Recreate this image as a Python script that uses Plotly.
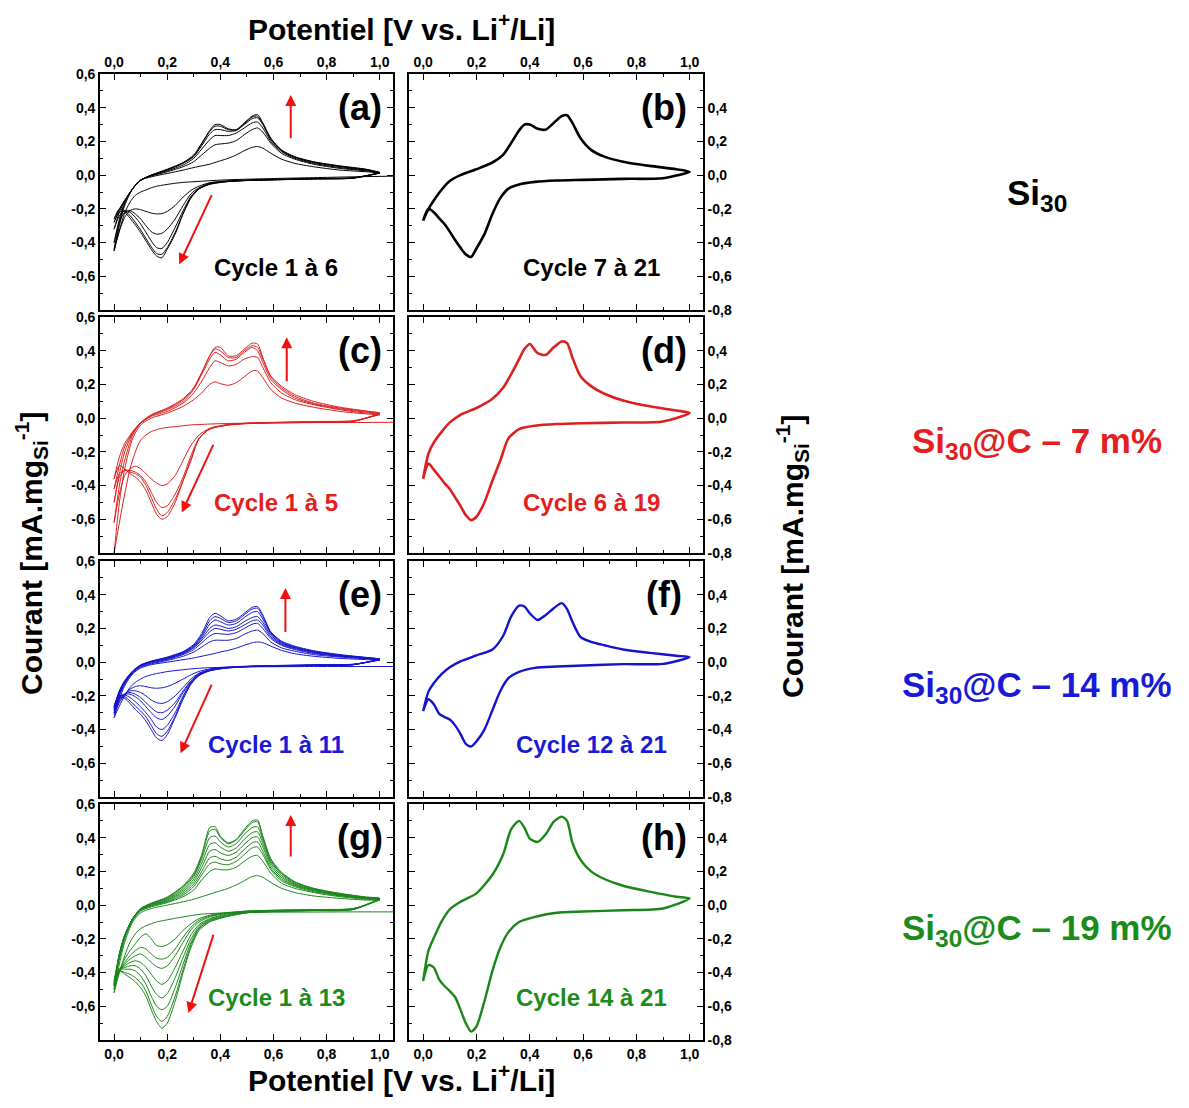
import plotly.graph_objects as go

# ---------------- DATA ----------------
# voltage grids (V vs Li+/Li)
VC = [1.0, 0.9, 0.75, 0.6, 0.5, 0.42, 0.36, 0.32, 0.29, 0.26, 0.23, 0.2, 0.18, 0.16, 0.14, 0.12, 0.1, 0.08, 0.06, 0.04, 0.02, 0.0]
VC_FIRST = [1.1, 0.9, 0.75, 0.6, 0.5, 0.42, 0.36, 0.32, 0.29, 0.26, 0.23, 0.2, 0.18, 0.16, 0.14, 0.12, 0.1, 0.08, 0.06, 0.04, 0.02, 0.0]
VA = [0.0, 0.02, 0.04, 0.07, 0.1, 0.14, 0.2, 0.26, 0.3, 0.33, 0.36, 0.38, 0.4, 0.43, 0.46, 0.49, 0.52, 0.54, 0.56, 0.59, 0.63, 0.68, 0.75, 0.85, 0.95, 1.0]

# (a) Si30, cycles 1-6
A_CATH = [
    [-0.005, -0.01, -0.015, -0.02, -0.024, -0.028, -0.033, -0.037, -0.04, -0.043, -0.048, -0.055, -0.06, -0.066, -0.075, -0.088, -0.1, -0.12, -0.16, -0.225, -0.33, -0.45],
    [0.012, -0.015, -0.02, -0.025, -0.03, -0.035, -0.045, -0.065, -0.09, -0.13, -0.18, -0.215, -0.228, -0.23, -0.225, -0.215, -0.205, -0.2, -0.21, -0.25, -0.33, -0.44],
    [0.013, -0.016, -0.021, -0.026, -0.03, -0.036, -0.048, -0.075, -0.11, -0.18, -0.26, -0.32, -0.345, -0.35, -0.335, -0.3, -0.26, -0.23, -0.21, -0.22, -0.28, -0.4],
    [0.014, -0.017, -0.022, -0.027, -0.031, -0.038, -0.05, -0.08, -0.125, -0.21, -0.31, -0.4, -0.435, -0.43, -0.39, -0.34, -0.29, -0.25, -0.22, -0.21, -0.24, -0.32],
    [0.015, -0.018, -0.022, -0.028, -0.032, -0.039, -0.053, -0.08, -0.13, -0.225, -0.34, -0.43, -0.47, -0.465, -0.425, -0.375, -0.325, -0.28, -0.24, -0.215, -0.22, -0.28],
    [0.015, -0.018, -0.023, -0.028, -0.032, -0.04, -0.055, -0.082, -0.135, -0.23, -0.35, -0.44, -0.49, -0.48, -0.44, -0.39, -0.34, -0.295, -0.255, -0.22, -0.2, -0.26],
]
A_ANOD = [
    [-0.45, -0.3, -0.18, -0.08, -0.03, -0.01, 0.01, 0.03, 0.045, 0.055, 0.065, 0.075, 0.085, 0.1, 0.12, 0.145, 0.165, 0.17, 0.16, 0.13, 0.095, 0.07, 0.05, 0.03, 0.02, 0.012],
    [-0.44, -0.28, -0.17, -0.08, -0.03, -0.005, 0.02, 0.05, 0.08, 0.12, 0.16, 0.18, 0.185, 0.19, 0.205, 0.24, 0.27, 0.28, 0.255, 0.19, 0.13, 0.095, 0.065, 0.04, 0.025, 0.013],
    [-0.4, -0.26, -0.16, -0.08, -0.03, -0.003, 0.025, 0.06, 0.1, 0.155, 0.21, 0.235, 0.235, 0.235, 0.25, 0.28, 0.31, 0.315, 0.28, 0.2, 0.14, 0.1, 0.07, 0.045, 0.028, 0.014],
    [-0.32, -0.22, -0.155, -0.08, -0.03, 0.0, 0.03, 0.07, 0.11, 0.175, 0.245, 0.27, 0.27, 0.26, 0.265, 0.3, 0.335, 0.34, 0.3, 0.21, 0.145, 0.105, 0.075, 0.05, 0.03, 0.015],
    [-0.28, -0.205, -0.15, -0.08, -0.03, 0.0, 0.033, 0.073, 0.115, 0.185, 0.26, 0.29, 0.29, 0.27, 0.268, 0.305, 0.345, 0.35, 0.305, 0.215, 0.148, 0.108, 0.078, 0.053, 0.033, 0.015],
    [-0.26, -0.2, -0.15, -0.082, -0.03, 0.0, 0.035, 0.075, 0.12, 0.19, 0.265, 0.3, 0.3, 0.275, 0.27, 0.31, 0.35, 0.36, 0.31, 0.22, 0.15, 0.11, 0.08, 0.055, 0.035, 0.016],
]
# (b) Si30, cycles 7-21
B_CATH = [[0.02, -0.018, -0.022, -0.028, -0.032, -0.04, -0.055, -0.08, -0.135, -0.23, -0.35, -0.435, -0.485, -0.47, -0.43, -0.385, -0.335, -0.29, -0.255, -0.22, -0.2, -0.27]]
B_ANOD = [[-0.27, -0.2, -0.15, -0.085, -0.035, 0.0, 0.035, 0.075, 0.12, 0.19, 0.265, 0.3, 0.3, 0.275, 0.27, 0.31, 0.35, 0.355, 0.31, 0.22, 0.15, 0.11, 0.08, 0.055, 0.035, 0.02]]

# (c) Si30@C 7 m%, cycles 1-5
C_CATH = [
    [-0.024, -0.026, -0.027, -0.028, -0.03, -0.032, -0.035, -0.038, -0.04, -0.045, -0.05, -0.055, -0.06, -0.068, -0.08, -0.1, -0.13, -0.2, -0.3, -0.45, -0.62, -0.8],
    [0.02, -0.015, -0.02, -0.025, -0.03, -0.04, -0.06, -0.1, -0.16, -0.25, -0.34, -0.39, -0.4, -0.385, -0.36, -0.33, -0.3, -0.285, -0.3, -0.34, -0.45, -0.62],
    [0.025, -0.018, -0.022, -0.026, -0.03, -0.04, -0.065, -0.12, -0.22, -0.35, -0.45, -0.52, -0.53, -0.5, -0.44, -0.38, -0.34, -0.32, -0.31, -0.31, -0.35, -0.5],
    [0.028, -0.019, -0.023, -0.027, -0.031, -0.042, -0.065, -0.12, -0.24, -0.37, -0.48, -0.56, -0.58, -0.54, -0.47, -0.4, -0.35, -0.33, -0.32, -0.31, -0.33, -0.42],
    [0.03, -0.02, -0.025, -0.029, -0.033, -0.044, -0.065, -0.12, -0.25, -0.37, -0.5, -0.585, -0.6, -0.57, -0.5, -0.43, -0.38, -0.35, -0.33, -0.3, -0.28, -0.36],
]
C_ANOD = [
    [-0.8, -0.5, -0.3, -0.12, -0.04, 0.0, 0.03, 0.07, 0.11, 0.15, 0.2, 0.215, 0.205, 0.195, 0.21, 0.245, 0.28, 0.28, 0.24, 0.17, 0.12, 0.09, 0.065, 0.04, 0.025, 0.02],
    [-0.62, -0.4, -0.25, -0.1, -0.03, 0.01, 0.04, 0.09, 0.15, 0.22, 0.3, 0.34, 0.33, 0.31, 0.32, 0.35, 0.365, 0.36, 0.3, 0.21, 0.15, 0.11, 0.08, 0.05, 0.03, 0.025],
    [-0.5, -0.33, -0.2, -0.09, -0.03, 0.015, 0.05, 0.1, 0.17, 0.26, 0.35, 0.39, 0.375, 0.34, 0.35, 0.39, 0.42, 0.4, 0.33, 0.23, 0.17, 0.12, 0.085, 0.055, 0.035, 0.028],
    [-0.42, -0.28, -0.17, -0.085, -0.03, 0.018, 0.055, 0.11, 0.18, 0.27, 0.37, 0.41, 0.4, 0.36, 0.36, 0.4, 0.43, 0.42, 0.35, 0.245, 0.18, 0.13, 0.09, 0.06, 0.04, 0.03],
    [-0.36, -0.23, -0.15, -0.08, -0.025, 0.02, 0.06, 0.115, 0.18, 0.27, 0.37, 0.42, 0.42, 0.37, 0.37, 0.41, 0.445, 0.44, 0.36, 0.25, 0.19, 0.14, 0.1, 0.065, 0.042, 0.03],
]
# (d) Si30@C 7 m%, cycles 6-19
D_CATH = [[0.03, -0.02, -0.026, -0.03, -0.035, -0.045, -0.065, -0.12, -0.25, -0.37, -0.5, -0.585, -0.605, -0.575, -0.52, -0.47, -0.42, -0.385, -0.345, -0.305, -0.27, -0.36]]
D_ANOD = [[-0.36, -0.21, -0.145, -0.08, -0.025, 0.02, 0.06, 0.115, 0.18, 0.26, 0.35, 0.41, 0.44, 0.385, 0.375, 0.42, 0.455, 0.445, 0.36, 0.25, 0.19, 0.145, 0.105, 0.07, 0.045, 0.03]]

# (e) Si30@C 14 m%, cycles 1-11 (selection)
E_CATH = [
    [-0.026, -0.026, -0.026, -0.027, -0.028, -0.03, -0.033, -0.036, -0.04, -0.045, -0.05, -0.056, -0.062, -0.068, -0.075, -0.085, -0.1, -0.12, -0.15, -0.2, -0.26, -0.33],
    [0.012, -0.012, -0.016, -0.02, -0.024, -0.03, -0.04, -0.055, -0.075, -0.1, -0.125, -0.145, -0.152, -0.155, -0.152, -0.145, -0.14, -0.145, -0.16, -0.19, -0.24, -0.31],
    [0.014, -0.013, -0.017, -0.021, -0.025, -0.032, -0.045, -0.065, -0.1, -0.15, -0.2, -0.235, -0.245, -0.24, -0.225, -0.2, -0.18, -0.17, -0.17, -0.19, -0.23, -0.3],
    [0.015, -0.014, -0.018, -0.022, -0.026, -0.033, -0.047, -0.07, -0.11, -0.17, -0.24, -0.285, -0.3, -0.295, -0.27, -0.24, -0.21, -0.19, -0.18, -0.19, -0.22, -0.29],
    [0.016, -0.014, -0.018, -0.022, -0.026, -0.034, -0.048, -0.072, -0.115, -0.18, -0.26, -0.32, -0.34, -0.33, -0.3, -0.265, -0.23, -0.205, -0.19, -0.19, -0.21, -0.28],
    [0.017, -0.015, -0.019, -0.023, -0.027, -0.035, -0.05, -0.075, -0.12, -0.2, -0.3, -0.375, -0.4, -0.385, -0.34, -0.3, -0.265, -0.235, -0.21, -0.195, -0.2, -0.27],
    [0.018, -0.015, -0.019, -0.023, -0.027, -0.035, -0.05, -0.078, -0.125, -0.21, -0.32, -0.41, -0.44, -0.425, -0.375, -0.325, -0.29, -0.26, -0.23, -0.205, -0.2, -0.26],
    [0.018, -0.016, -0.02, -0.024, -0.028, -0.036, -0.052, -0.08, -0.13, -0.22, -0.33, -0.43, -0.465, -0.45, -0.4, -0.35, -0.31, -0.28, -0.245, -0.215, -0.21, -0.27],
]
E_ANOD = [
    [-0.33, -0.22, -0.14, -0.07, -0.035, -0.015, 0.0, 0.015, 0.025, 0.035, 0.045, 0.052, 0.06, 0.07, 0.083, 0.1, 0.115, 0.12, 0.115, 0.095, 0.07, 0.05, 0.035, 0.022, 0.015, 0.012],
    [-0.31, -0.2, -0.13, -0.065, -0.03, -0.01, 0.01, 0.035, 0.06, 0.09, 0.12, 0.13, 0.13, 0.13, 0.14, 0.165, 0.185, 0.19, 0.17, 0.12, 0.085, 0.065, 0.045, 0.03, 0.02, 0.014],
    [-0.3, -0.19, -0.125, -0.06, -0.025, -0.005, 0.015, 0.045, 0.075, 0.115, 0.155, 0.17, 0.168, 0.165, 0.175, 0.2, 0.225, 0.23, 0.2, 0.14, 0.1, 0.075, 0.052, 0.034, 0.022, 0.015],
    [-0.29, -0.185, -0.12, -0.058, -0.022, 0.0, 0.02, 0.05, 0.085, 0.13, 0.18, 0.2, 0.195, 0.185, 0.195, 0.22, 0.245, 0.25, 0.22, 0.15, 0.105, 0.08, 0.056, 0.036, 0.024, 0.016],
    [-0.28, -0.18, -0.118, -0.056, -0.02, 0.002, 0.022, 0.053, 0.09, 0.14, 0.2, 0.22, 0.215, 0.2, 0.21, 0.24, 0.265, 0.27, 0.235, 0.16, 0.11, 0.085, 0.06, 0.038, 0.025, 0.017],
    [-0.27, -0.175, -0.115, -0.055, -0.02, 0.004, 0.025, 0.057, 0.095, 0.15, 0.225, 0.25, 0.24, 0.22, 0.23, 0.265, 0.295, 0.3, 0.255, 0.17, 0.115, 0.088, 0.063, 0.04, 0.026, 0.018],
    [-0.26, -0.17, -0.112, -0.054, -0.018, 0.005, 0.027, 0.06, 0.1, 0.16, 0.245, 0.27, 0.26, 0.235, 0.245, 0.28, 0.315, 0.32, 0.27, 0.175, 0.12, 0.09, 0.065, 0.042, 0.027, 0.018],
    [-0.27, -0.17, -0.11, -0.052, -0.016, 0.006, 0.03, 0.063, 0.105, 0.17, 0.265, 0.29, 0.275, 0.245, 0.255, 0.29, 0.325, 0.33, 0.28, 0.18, 0.125, 0.095, 0.068, 0.045, 0.028, 0.02],
]
# (f) Si30@C 14 m%, cycles 12-21
F_CATH = [[0.03, -0.01, -0.012, -0.02, -0.026, -0.034, -0.058, -0.095, -0.17, -0.285, -0.4, -0.47, -0.5, -0.485, -0.425, -0.375, -0.34, -0.325, -0.305, -0.25, -0.22, -0.29]]
F_ANOD = [[-0.29, -0.175, -0.125, -0.07, -0.03, 0.005, 0.04, 0.075, 0.155, 0.27, 0.335, 0.33, 0.29, 0.25, 0.28, 0.32, 0.35, 0.315, 0.24, 0.15, 0.12, 0.1, 0.075, 0.055, 0.038, 0.03]]

# (g) Si30@C 19 m%, cycles 1-13 (selection)
G_CATH = [
    [-0.04, -0.04, -0.041, -0.042, -0.044, -0.046, -0.05, -0.055, -0.062, -0.07, -0.078, -0.087, -0.093, -0.1, -0.11, -0.122, -0.14, -0.17, -0.22, -0.3, -0.4, -0.52],
    [0.03, -0.02, -0.026, -0.03, -0.035, -0.045, -0.06, -0.08, -0.11, -0.15, -0.2, -0.235, -0.245, -0.24, -0.2, -0.17, -0.19, -0.23, -0.27, -0.32, -0.39, -0.48],
    [0.032, -0.021, -0.027, -0.031, -0.036, -0.048, -0.065, -0.09, -0.13, -0.19, -0.26, -0.31, -0.32, -0.315, -0.29, -0.26, -0.25, -0.27, -0.3, -0.34, -0.4, -0.47],
    [0.034, -0.022, -0.028, -0.032, -0.037, -0.05, -0.07, -0.1, -0.145, -0.22, -0.3, -0.36, -0.375, -0.365, -0.34, -0.31, -0.29, -0.3, -0.32, -0.35, -0.39, -0.46],
    [0.036, -0.023, -0.029, -0.034, -0.039, -0.055, -0.08, -0.115, -0.175, -0.27, -0.37, -0.45, -0.47, -0.45, -0.41, -0.37, -0.34, -0.33, -0.34, -0.36, -0.38, -0.45],
    [0.037, -0.024, -0.03, -0.035, -0.041, -0.06, -0.085, -0.125, -0.2, -0.31, -0.43, -0.525, -0.55, -0.53, -0.48, -0.42, -0.38, -0.36, -0.36, -0.37, -0.38, -0.46],
    [0.038, -0.025, -0.031, -0.036, -0.043, -0.065, -0.09, -0.135, -0.22, -0.35, -0.49, -0.6, -0.62, -0.6, -0.54, -0.47, -0.42, -0.39, -0.38, -0.38, -0.38, -0.47],
    [0.04, -0.026, -0.032, -0.037, -0.045, -0.068, -0.095, -0.14, -0.235, -0.38, -0.54, -0.66, -0.69, -0.66, -0.59, -0.51, -0.46, -0.43, -0.41, -0.4, -0.39, -0.48],
    [0.04, -0.026, -0.033, -0.038, -0.046, -0.07, -0.1, -0.15, -0.25, -0.4, -0.57, -0.7, -0.73, -0.69, -0.62, -0.54, -0.49, -0.455, -0.43, -0.41, -0.39, -0.5],
]
G_ANOD = [
    [-0.52, -0.35, -0.22, -0.1, -0.045, -0.02, 0.0, 0.02, 0.035, 0.05, 0.065, 0.075, 0.085, 0.1, 0.12, 0.145, 0.17, 0.175, 0.165, 0.135, 0.1, 0.075, 0.055, 0.04, 0.03, 0.03],
    [-0.48, -0.32, -0.2, -0.09, -0.035, -0.01, 0.015, 0.05, 0.09, 0.15, 0.2, 0.215, 0.21, 0.21, 0.225, 0.26, 0.29, 0.295, 0.26, 0.19, 0.13, 0.1, 0.075, 0.05, 0.035, 0.032],
    [-0.47, -0.31, -0.19, -0.085, -0.03, -0.005, 0.02, 0.06, 0.11, 0.18, 0.245, 0.255, 0.245, 0.24, 0.26, 0.3, 0.34, 0.345, 0.3, 0.21, 0.145, 0.11, 0.08, 0.055, 0.038, 0.034],
    [-0.46, -0.3, -0.185, -0.083, -0.028, -0.002, 0.025, 0.07, 0.125, 0.2, 0.28, 0.29, 0.275, 0.265, 0.285, 0.33, 0.37, 0.375, 0.32, 0.22, 0.155, 0.115, 0.085, 0.058, 0.04, 0.036],
    [-0.45, -0.29, -0.18, -0.08, -0.025, 0.002, 0.03, 0.08, 0.14, 0.225, 0.32, 0.33, 0.31, 0.295, 0.315, 0.36, 0.4, 0.405, 0.345, 0.235, 0.165, 0.12, 0.09, 0.06, 0.042, 0.037],
    [-0.46, -0.29, -0.18, -0.08, -0.024, 0.005, 0.035, 0.09, 0.155, 0.25, 0.36, 0.37, 0.345, 0.32, 0.34, 0.39, 0.43, 0.435, 0.365, 0.25, 0.175, 0.125, 0.092, 0.062, 0.044, 0.038],
    [-0.47, -0.29, -0.18, -0.08, -0.023, 0.008, 0.04, 0.1, 0.17, 0.275, 0.4, 0.41, 0.375, 0.345, 0.365, 0.42, 0.46, 0.465, 0.385, 0.26, 0.185, 0.13, 0.095, 0.065, 0.045, 0.04],
    [-0.48, -0.29, -0.18, -0.08, -0.022, 0.01, 0.045, 0.11, 0.18, 0.29, 0.44, 0.45, 0.4, 0.365, 0.385, 0.44, 0.49, 0.495, 0.4, 0.27, 0.19, 0.135, 0.1, 0.068, 0.047, 0.04],
    [-0.5, -0.29, -0.18, -0.08, -0.02, 0.012, 0.048, 0.115, 0.19, 0.3, 0.46, 0.465, 0.41, 0.37, 0.39, 0.45, 0.5, 0.505, 0.41, 0.275, 0.195, 0.14, 0.1, 0.07, 0.048, 0.04],
]
# (h) Si30@C 19 m%, cycles 14-21
H_CATH = [[0.04, -0.02, -0.03, -0.038, -0.045, -0.07, -0.1, -0.16, -0.25, -0.39, -0.57, -0.72, -0.75, -0.7, -0.62, -0.545, -0.51, -0.48, -0.44, -0.37, -0.355, -0.45]]
H_ANOD = [[-0.45, -0.27, -0.195, -0.095, -0.025, 0.02, 0.07, 0.18, 0.3, 0.45, 0.5, 0.46, 0.395, 0.375, 0.42, 0.495, 0.525, 0.5, 0.37, 0.27, 0.2, 0.155, 0.115, 0.08, 0.05, 0.04]]

PANEL_LETTERS = ["(a)", "(b)", "(c)", "(d)", "(e)", "(f)", "(g)", "(h)"]
CYCLE_LABELS = ["Cycle 1 à 6", "Cycle 7 à 21", "Cycle 1 à 5", "Cycle 6 à 19",
                "Cycle 1 à 11", "Cycle 12 à 21", "Cycle 1 à 13", "Cycle 14 à 21"]
SAMPLE_LABELS = ["Si<sub>30</sub>", "Si<sub>30</sub>@C – 7 m%",
                 "Si<sub>30</sub>@C – 14 m%", "Si<sub>30</sub>@C – 19 m%"]
X_TICK_VALS = [0.0, 0.2, 0.4, 0.6, 0.8, 1.0]
X_TICK_TEXT = ["0,0", "0,2", "0,4", "0,6", "0,8", "1,0"]
Y_LEFT_VALS = [0.6, 0.4, 0.2, 0.0, -0.2, -0.4, -0.6]
Y_LEFT_TEXT = ["0,6", "0,4", "0,2", "0,0", "-0,2", "-0,4", "-0,6"]
Y_RIGHT_VALS = [0.4, 0.2, 0.0, -0.2, -0.4, -0.6, -0.8]
Y_RIGHT_TEXT = ["0,4", "0,2", "0,0", "-0,2", "-0,4", "-0,6", "-0,8"]

# ---------------- STYLE / LAYOUT ----------------
# page has an 8px body margin: the figure is offset by OFF px
OFF = 8
W, H = 1189 - 2 * OFF, 1108 - 2 * OFF


def px(xp):
    return (xp - OFF) / W


def py(yp):
    return 1 - (yp - OFF) / H


COL_PX = [(100, 393), (409, 703)]
ROW_PX = [(74, 310), (317, 553), (561, 797), (804, 1040)]
BLACK, RED, BLUE, GREEN = "#000000", "#dc1f1f", "#1414cc", "#1a861a"
TXT_RED, TXT_BLUE, TXT_GREEN = "#e3201e", "#1a1ad6", "#1b8c1b"
ARROW = "#f01010"
FONT = "Liberation Sans, Arial, sans-serif"

panels = [
    (A_CATH, A_ANOD, BLACK, 1.0, BLACK),
    (B_CATH, B_ANOD, BLACK, 2.6, BLACK),
    (C_CATH, C_ANOD, RED, 1.0, TXT_RED),
    (D_CATH, D_ANOD, RED, 2.6, TXT_RED),
    (E_CATH, E_ANOD, BLUE, 1.0, TXT_BLUE),
    (F_CATH, F_ANOD, BLUE, 2.4, TXT_BLUE),
    (G_CATH, G_ANOD, GREEN, 1.0, TXT_GREEN),
    (H_CATH, H_ANOD, GREEN, 2.4, TXT_GREEN),
]
ARROWS = {
    0: ((0.665, 0.21), (0.665, 0.475), (0.37, -0.11), (0.245, -0.53)),
    2: ((0.65, 0.21), (0.65, 0.48), (0.376, -0.15), (0.255, -0.56)),
    4: ((0.645, 0.17), (0.645, 0.44), (0.37, -0.125), (0.25, -0.54)),
    6: ((0.665, 0.28), (0.665, 0.535), (0.376, -0.166), (0.28, -0.64)),
}
CYCLE_Y = [-0.546, -0.546, -0.5, -0.5, -0.487, -0.49, -0.55, -0.55]

fig = go.Figure()
annotations = []
layout = {}

for i, (cath, anod, color, lw, tcolor) in enumerate(panels):
    row, col = divmod(i, 2)
    n = i + 1
    xa = "x" if n == 1 else f"x{n}"
    ya = "y" if n == 1 else f"y{n}"
    multi = len(cath) > 1
    for k, (c, a) in enumerate(zip(cath, anod)):
        vc = VC_FIRST if (multi and k == 0) else VC
        fig.add_trace(go.Scatter(
            x=list(vc) + list(VA), y=list(c) + list(a),
            mode="lines", line=dict(color=color, width=lw, shape="spline", smoothing=0.7),
            xaxis=xa, yaxis=ya, showlegend=False, hoverinfo="skip"))

    x0, x1 = COL_PX[col]
    t, b = ROW_PX[row]
    xaxis = dict(
        domain=[px(x0), px(x1)], range=[-0.053, 1.05], anchor=ya, automargin=False,
        showline=True, linecolor="black", linewidth=1.6, mirror="allticks",
        ticks="inside", ticklen=6, tickwidth=1.3, tickcolor="black",
        tickvals=X_TICK_VALS, ticktext=X_TICK_TEXT,
        minor=dict(ticks="inside", ticklen=3, tickwidth=1.1, tickcolor="black",
                   tickvals=[0.1, 0.3, 0.5, 0.7, 0.9]),
        showgrid=False, zeroline=False,
        tickfont=dict(family=FONT, size=14, color="black", weight="bold"),
    )
    if row == 0:
        xaxis.update(side="top", showticklabels=True)
    elif row == 3:
        xaxis.update(side="bottom", showticklabels=True)
    else:
        xaxis.update(showticklabels=False)
    yaxis = dict(
        domain=[py(b), py(t)], range=[-0.8, 0.6], anchor=xa, automargin=False,
        showline=True, linecolor="black", linewidth=1.6, mirror="allticks",
        ticks="inside", ticklen=6, tickwidth=1.3, tickcolor="black",
        minor=dict(ticks="inside", ticklen=3, tickwidth=1.1, tickcolor="black",
                   tickvals=[-0.7, -0.5, -0.3, -0.1, 0.1, 0.3, 0.5]),
        showgrid=False, zeroline=False,
        tickfont=dict(family=FONT, size=14, color="black", weight="bold"),
    )
    if col == 0:
        yaxis.update(side="left", tickvals=Y_LEFT_VALS, ticktext=Y_LEFT_TEXT)
    else:
        yaxis.update(side="right", tickvals=Y_RIGHT_VALS, ticktext=Y_RIGHT_TEXT)
    layout["xaxis" if n == 1 else f"xaxis{n}"] = xaxis
    layout["yaxis" if n == 1 else f"yaxis{n}"] = yaxis

    annotations.append(dict(text=f"<b>{PANEL_LETTERS[i]}</b>", x=0.925 if col == 0 else 0.905, y=0.4,
                            xref=xa, yref=ya, showarrow=False, xanchor="center", yanchor="middle",
                            font=dict(family=FONT, size=36, color="black")))
    annotations.append(dict(text=f"<b>{CYCLE_LABELS[i]}</b>", x=0.61 if col == 0 else 0.63, y=CYCLE_Y[i],
                            xref=xa, yref=ya, showarrow=False, xanchor="center", yanchor="middle",
                            font=dict(family=FONT, size=24, color=tcolor)))
    if i in ARROWS:
        ut, uh, dt, dh = ARROWS[i]
        for tail, head in ((ut, uh), (dt, dh)):
            annotations.append(dict(text="", x=head[0], y=head[1], ax=tail[0], ay=tail[1],
                                    xref=xa, yref=ya, axref=xa, ayref=ya, showarrow=True,
                                    arrowhead=2, arrowsize=1.1, arrowwidth=2, arrowcolor=ARROW))

title_font = dict(family=FONT, size=30, color="black")
annotations += [
    dict(text="<b>Potentiel [V vs. Li<sup>+</sup>/Li]</b>", x=px(401), y=py(27), xref="paper", yref="paper",
         showarrow=False, xanchor="center", yanchor="middle", font=title_font),
    dict(text="<b>Potentiel [V vs. Li<sup>+</sup>/Li]</b>", x=px(401), y=py(1099), xref="paper", yref="paper",
         showarrow=False, xanchor="center", yanchor="bottom", font=title_font),
    dict(text="<b>Courant [mA.mg<sub>Si</sub><sup>-1</sup>]</b>", x=px(31), y=py(553), xref="paper", yref="paper",
         showarrow=False, xanchor="center", yanchor="middle", textangle=-90, font=title_font),
    dict(text="<b>Courant [mA.mg<sub>Si</sub><sup>-1</sup>]</b>", x=px(792), y=py(556), xref="paper", yref="paper",
         showarrow=False, xanchor="center", yanchor="middle", textangle=-90, font=title_font),
]
for lbl, ypx, c in zip(SAMPLE_LABELS, [195, 443, 687, 930], [BLACK, TXT_RED, TXT_BLUE, TXT_GREEN]):
    annotations.append(dict(text=f"<b>{lbl}</b>", x=px(1037), y=py(ypx), xref="paper", yref="paper",
                            showarrow=False, xanchor="center", yanchor="middle",
                            font=dict(family=FONT, size=35, color=c)))

fig.update_layout(width=W, height=H, margin=dict(l=0, r=0, t=0, b=0, autoexpand=False),
                  paper_bgcolor="white", plot_bgcolor="white", showlegend=False,
                  annotations=annotations, **layout)
fig.write_html("out.html")
